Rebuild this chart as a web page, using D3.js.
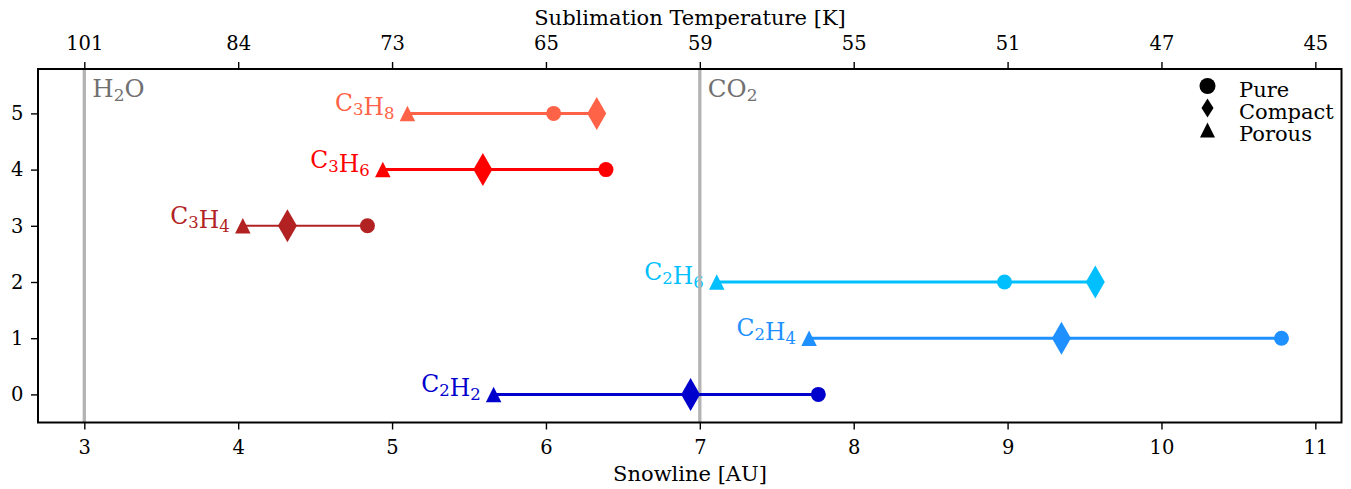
<!DOCTYPE html>
<html>
<head>
<meta charset="utf-8">
<script src="https://cdn.jsdelivr.net/npm/d3@7"></script>
<style>
  html, body { margin: 0; padding: 0; background: #fff; }
  svg text { font-family: "DejaVu Serif", serif; }
</style>
</head>
<body>
<svg id="chart" width="1351" height="489"></svg>
<script>
// Molecules, one row each (y = row index)
const molecules = ["C2H2", "C2H4", "C2H6", "C3H4", "C3H6", "C3H8"];
const labelParts = [
  [["C", "2"], ["H", "2"]],
  [["C", "2"], ["H", "4"]],
  [["C", "2"], ["H", "6"]],
  [["C", "3"], ["H", "4"]],
  [["C", "3"], ["H", "6"]],
  [["C", "3"], ["H", "8"]]
];
const colors = ["#0000cd", "#1e90ff", "#00bfff", "#b22222", "#ff0000", "#ff6347"];
const lineWidths = [3, 3, 3, 2, 3, 3];

// Snowline positions [AU] for each ice structure
const pureAU    = [7.77, 10.78, 8.98, 4.84, 6.39, 6.05];
const compactAU = [6.94, 9.35, 9.57, 4.32, 5.59, 6.33];
const porousAU  = [5.66, 7.71, 7.11, 4.03, 4.94, 5.10];

// Reference snowlines
const refNames = [["H", "2", "O"], ["CO", "2", ""]];
const refAU = [3, 7];

// Axis ticks
const auTicks = [3, 4, 5, 6, 7, 8, 9, 10, 11];
const tempLabels = ["101", "84", "73", "65", "59", "55", "51", "47", "45"];
const yTicks = [0, 1, 2, 3, 4, 5];

const svg = d3.select("#chart");
const plotL = 38, plotR = 1341.5, plotT = 69, plotB = 422.5;

const x = d3.scaleLinear().domain([2.699, 11.17]).range([plotL, plotR]);
const y = d3.scaleLinear().domain([-0.5, 5.79]).range([plotB, plotT]);

const circle = d3.symbol().type(d3.symbolCircle);
function diamondPath(w, h) {
  return `M0,${-h / 2}L${w / 2},0L0,${h / 2}L${-w / 2},0Z`;
}
function trianglePath(w, h) {
  return `M0,${-h / 2}L${w / 2},${h / 2}L${-w / 2},${h / 2}Z`;
}

// Molecule labels (beneath the reference lines)
molecules.forEach((m, i) => {
  const t = svg.append("text")
    .attr("x", x(porousAU[i]) - 13).attr("y", y(i) - 2)
    .attr("text-anchor", "end")
    .attr("font-size", 23.5).attr("fill", colors[i]);
  labelParts[i].forEach(([el, n]) => {
    t.append("tspan").text(el);
    t.append("tspan").attr("font-size", 16.5).attr("dy", 4).text(n);
    t.append("tspan").attr("dy", -4).text("");
  });
});

// Reference vertical lines
refAU.forEach((v, i) => {
  svg.append("line")
    .attr("x1", x(v)).attr("x2", x(v))
    .attr("y1", plotT).attr("y2", plotB)
    .attr("stroke", "#b3b3b3").attr("stroke-width", 3.3);
  const t = svg.append("text")
    .attr("x", x(v) + 8).attr("y", 97)
    .attr("font-size", 24.5).attr("fill", "#707070");
  t.append("tspan").text(refNames[i][0]);
  t.append("tspan").attr("font-size", 17).attr("dy", 4).text(refNames[i][1]);
  if (refNames[i][2]) t.append("tspan").attr("dy", -4).text(refNames[i][2]);
});

// Ranges and markers
molecules.forEach((m, i) => {
  const vals = [pureAU[i], compactAU[i], porousAU[i]];
  const lo = d3.min(vals), hi = d3.max(vals);
  const g = svg.append("g");
  g.append("line")
    .attr("x1", x(lo)).attr("x2", x(hi))
    .attr("y1", y(i)).attr("y2", y(i))
    .attr("stroke", colors[i]).attr("stroke-width", lineWidths[i]);
  g.append("path")
    .attr("d", circle.size(Math.PI * 7.5 * 7.5)())
    .attr("transform", `translate(${x(pureAU[i])},${y(i)})`)
    .attr("fill", colors[i]);
  g.append("path")
    .attr("d", diamondPath(19, 33))
    .attr("transform", `translate(${x(compactAU[i])},${y(i)})`)
    .attr("fill", colors[i]);
  g.append("path")
    .attr("d", trianglePath(15.5, 15.5))
    .attr("transform", `translate(${x(porousAU[i])},${y(i)})`)
    .attr("fill", colors[i]);
});

// Frame
svg.append("rect")
  .attr("x", plotL).attr("y", plotT)
  .attr("width", plotR - plotL).attr("height", plotB - plotT)
  .attr("fill", "none").attr("stroke", "#000").attr("stroke-width", 2);

// Axes
const axisStyle = g => {
  g.select(".domain").remove();
  g.selectAll(".tick line").attr("stroke", "#000").attr("stroke-width", 1.4);
  g.selectAll(".tick text").attr("font-family", "DejaVu Serif").attr("font-size", 19.5).attr("fill", "#000");
};
svg.append("g").attr("transform", `translate(0,${plotB})`)
  .call(d3.axisBottom(x).tickValues(auTicks).tickFormat(d3.format("d")).tickSize(7).tickPadding(10.5))
  .call(axisStyle);
svg.append("g").attr("transform", `translate(0,${plotT})`)
  .call(d3.axisTop(x).tickValues(auTicks).tickFormat((d, i) => tempLabels[i]).tickSize(7).tickPadding(12))
  .call(axisStyle);
svg.append("g").attr("transform", `translate(${plotL},0)`)
  .call(d3.axisLeft(y).tickValues(yTicks).tickFormat(d3.format("d")).tickSize(7).tickPadding(7.5))
  .call(axisStyle);

svg.append("text").attr("x", 690).attr("y", 481)
  .attr("text-anchor", "middle").attr("font-size", 21).text("Snowline [AU]");
svg.append("text").attr("x", 690).attr("y", 25)
  .attr("text-anchor", "middle").attr("font-size", 21).text("Sublimation Temperature [K]");

// Legend
const legendNames = ["Pure", "Compact", "Porous"];
const legendShapes = [circle.size(Math.PI * 8 * 8)(), diamondPath(12, 19), trianglePath(15, 15)];
legendNames.forEach((n, i) => {
  const ly = 86 + i * 22;
  svg.append("path").attr("d", legendShapes[i])
    .attr("transform", `translate(1207.5,${ly})`).attr("fill", "#000");
  svg.append("text").attr("x", 1239).attr("y", ly + 10.5)
    .attr("font-size", 21).text(n);
});
</script>
</body>
</html>
